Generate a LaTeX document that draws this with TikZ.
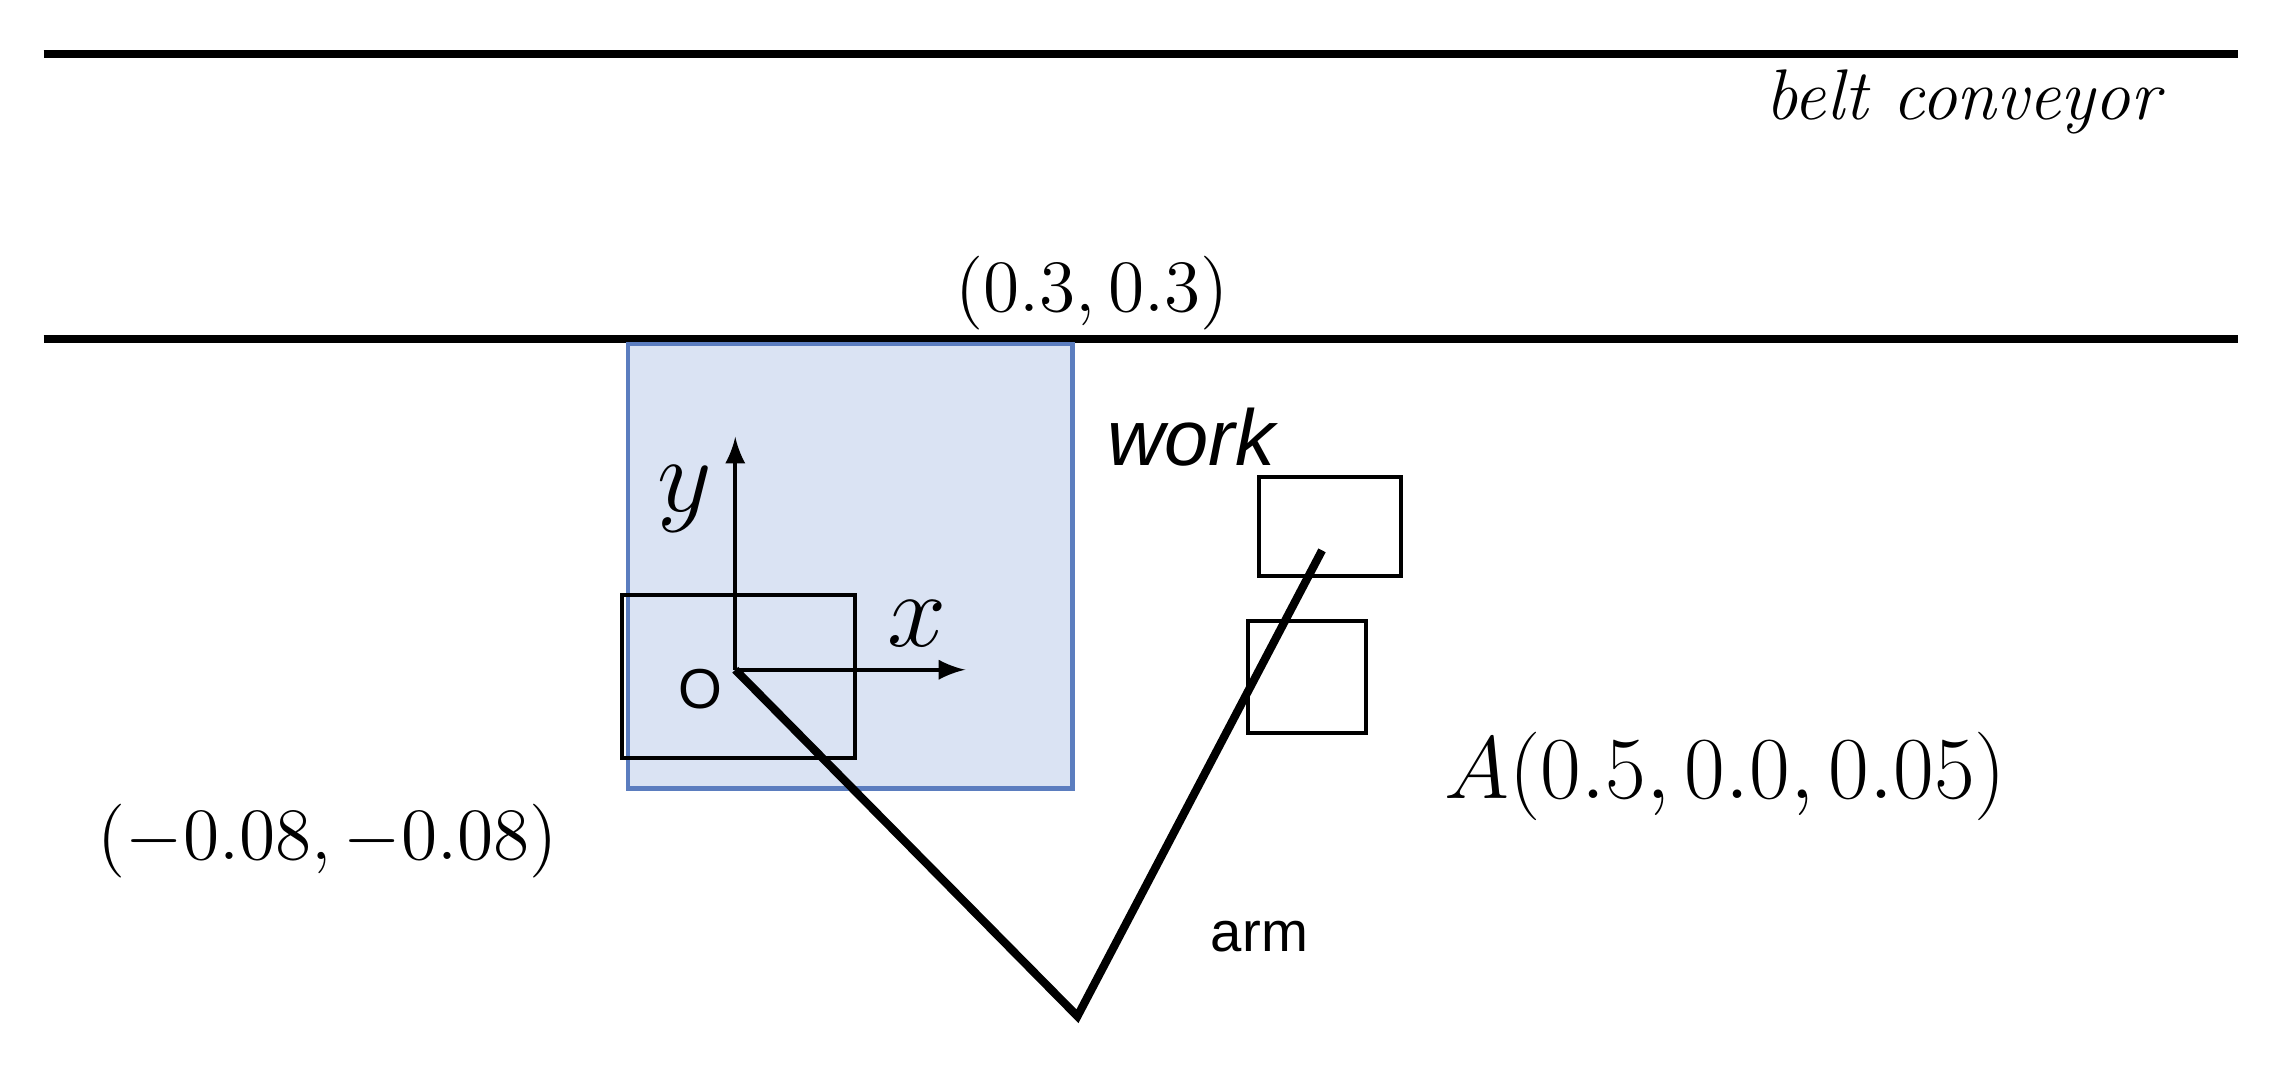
\documentclass[tikz,border=0pt]{standalone}
\usepackage{fontspec}
\newfontfamily\sansf{Liberation Sans}
\begin{document}
\begin{tikzpicture}[x=0.01cm,y=-0.01cm,
  belt/.style={line width=1.6pt},
  box/.style={draw,line width=0.8pt},
  ax/.style={line width=0.8pt,-latex},
  armline/.style={line width=1.6pt}]
\useasboundingbox (0,0) rectangle (1568,731);
\definecolor{workfill}{HTML}{DAE3F3}
\definecolor{workedge}{HTML}{5B7DBF}
\coordinate (b1l) at (30,37); \coordinate (b1r) at (1537,37);
\coordinate (b2l) at (30,233); \coordinate (b2r) at (1537,233);
\draw[belt] (b1l) -- (b1r);
\draw[belt] (b2l) -- (b2r);
\node[draw=workedge,fill=workfill,line width=0.8pt,inner sep=0,anchor=north west,minimum width=3.05cm,minimum height=3.05cm] (work) at (430,235) {};
\node[box,inner sep=0,anchor=north west,minimum width=1.6cm,minimum height=1.12cm] (grip) at (426,407) {};
\coordinate (O) at (505,460);
\coordinate (ytip) at (505,300);
\coordinate (xtip) at (663,460);
\draw[ax] (O) -- (ytip);
\draw[ax] (O) -- (xtip);
\node[box,inner sep=0,anchor=north west,minimum width=0.98cm,minimum height=0.68cm] (r1) at (863,326) {};
\node[box,inner sep=0,anchor=north west,minimum width=0.81cm,minimum height=0.77cm] (r2) at (856,425) {};
\coordinate (elbow) at (740,698);
\coordinate (hand) at (908,378);
\draw[armline,line join=miter] (O) -- (elbow) -- (hand);
\node (ly) at (470,343) {\fontsize{20}{24}\selectfont $y$};
\node (lx) at (630,428) {\fontsize{20}{24}\selectfont $x$};
\node (lO) at (481,473) {\sansf\fontsize{11}{13}\selectfont O};
\node (l03) at (750,201) {\fontsize{15.5}{18}\selectfont $(0.3, 0.3)$};
\node (lwork) at (818,300) {\sansf\itshape\fontsize{15.5}{18}\selectfont work};
\node (lbelt) at (1348,70) {\itshape\fontsize{14}{17}\selectfont belt conveyor};
\node (lA) at (1185,533) {\fontsize{19}{22}\selectfont $A(0.5, 0.0, 0.05)$};
\node (lm) at (225,578) {\fontsize{15.5}{18}\selectfont $(-0.08, -0.08)$};
\node (larm) at (865,643) {\sansf\fontsize{11}{13}\selectfont arm};
\end{tikzpicture}
\end{document}
